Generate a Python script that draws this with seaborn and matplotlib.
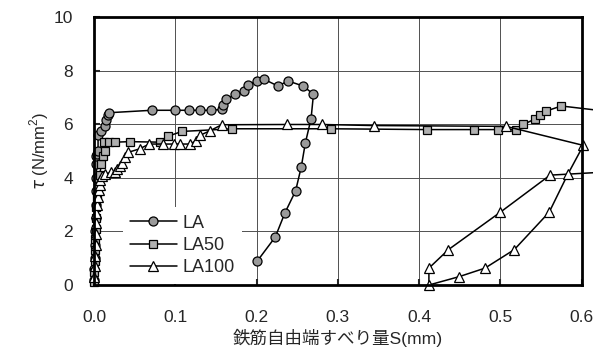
import matplotlib
matplotlib.use("Agg")
import matplotlib.pyplot as plt
import seaborn as sns

# Bond stress vs. free-end slip for three specimens
la_s = [0.000, 0.000, 0.001, 0.001, 0.001, 0.002, 0.002, 0.002, 0.003, 0.003,
        0.002, 0.004, 0.005, 0.005, 0.009, 0.013, 0.015, 0.017, 0.019, 0.071,
        0.100, 0.117, 0.130, 0.144, 0.157, 0.159, 0.163, 0.174, 0.185, 0.190,
        0.200, 0.209, 0.226, 0.239, 0.257, 0.270, 0.267, 0.260, 0.255, 0.248,
        0.235, 0.223, 0.201]
la_tau = [0.2, 0.6, 1.0, 1.5, 2.0, 2.5, 3.0, 3.5, 4.0, 4.5,
          4.8, 4.9, 5.0, 5.58, 5.76, 5.95, 6.14, 6.33, 6.43, 6.52,
          6.52, 6.52, 6.52, 6.52, 6.55, 6.73, 6.93, 7.12, 7.24, 7.46,
          7.63, 7.68, 7.43, 7.61, 7.43, 7.12, 6.20, 5.30, 4.41, 3.51,
          2.70, 1.79, 0.90]

la50_s = [0.000, 0.000, 0.001, 0.001, 0.001, 0.002, 0.002, 0.003, 0.004, 0.005,
          0.007, 0.009, 0.011, 0.013, 0.012, 0.019, 0.026, 0.044, 0.081, 0.091,
          0.108, 0.170, 0.292, 0.410, 0.468, 0.497, 0.519, 0.528, 0.543, 0.549,
          0.556, 0.575, 0.620]
la50_tau = [0.1, 0.5, 0.9, 1.3, 1.7, 2.1, 2.5, 2.9, 3.3, 3.7,
            4.1, 4.5, 4.8, 5.0, 5.33, 5.33, 5.33, 5.35, 5.33, 5.55,
            5.73, 5.83, 5.83, 5.80, 5.80, 5.80, 5.80, 5.99, 6.20, 6.36,
            6.49, 6.68, 6.52]

la100_s = [0.000, 0.001, 0.001, 0.002, 0.002, 0.003, 0.003, 0.004, 0.005, 0.006,
           0.007, 0.008, 0.010, 0.014, 0.021, 0.026, 0.028, 0.032, 0.034, 0.038,
           0.042, 0.056, 0.068, 0.085, 0.098, 0.106, 0.118, 0.126, 0.130, 0.143,
           0.157, 0.237, 0.280, 0.345, 0.507, 0.602, 0.583, 0.560, 0.517, 0.481,
           0.449, 0.412, 0.412, 0.436, 0.500, 0.561, 0.620]
la100_tau = [0.3, 0.7, 1.1, 1.5, 1.9, 2.3, 2.7, 3.0, 3.3, 3.55,
             3.75, 3.9, 4.05, 4.15, 4.2, 4.2, 4.32, 4.45, 4.57, 4.76,
             4.95, 5.08, 5.26, 5.26, 5.26, 5.26, 5.26, 5.39, 5.58, 5.76,
             5.98, 5.99, 5.99, 5.95, 5.92, 5.21, 4.14, 2.72, 1.32, 0.63,
             0.31, 0.0, 0.63, 1.32, 2.72, 4.10, 4.2]

labels = ["LA", "LA50", "LA100"]
x_ticks = [0.0, 0.1, 0.2, 0.3, 0.4, 0.5, 0.6]
y_ticks = [0, 2, 4, 6, 8, 10]

sns.set_style("white")
plt.rcParams["font.family"] = ["Liberation Sans", "Noto Sans CJK JP", "DejaVu Sans"]
plt.rcParams["mathtext.fontset"] = "custom"
plt.rcParams["mathtext.rm"] = "Liberation Sans"

fig = plt.figure(figsize=(5.93, 3.51), dpi=100)
ax = fig.add_axes([0.1585, 0.188, 0.8225, 0.7635])

styles = [
    dict(marker="o", markersize=6.5, markerfacecolor="#9a9a9a"),
    dict(marker="s", markersize=5.8, markerfacecolor="#b0b0b0"),
    dict(marker="^", markersize=7.2, markerfacecolor="white"),
]
series = [(la_s, la_tau), (la50_s, la50_tau), (la100_s, la100_tau)]

for (xs, ys), lab, st in zip(series, labels, styles):
    n = len(xs)
    # points past the right edge only carry the line out of the frame
    shown = [i for i in range(n) if xs[i] <= 0.605]
    sns.lineplot(x=xs, y=ys, ax=ax, sort=False, estimator=None, label=lab,
                 color="black", linewidth=1.1, markeredgecolor="black",
                 markeredgewidth=0.9, markevery=shown, clip_on=False, **st)

ax.set_xlim(0, 0.6)
ax.set_ylim(0, 10)
ax.set_xticks(x_ticks)
ax.set_xticklabels([f"{v:.1f}" for v in x_ticks])
ax.set_yticks(y_ticks)
ax.set_axisbelow(True)
ax.grid(True, color="#505050", linewidth=0.7)

for sp in ax.spines.values():
    sp.set_visible(True)
    sp.set_color("black")
    sp.set_linewidth(2)

ax.tick_params(axis="both", direction="in", length=4, width=1.5, labelsize=12.5,
               bottom=True, left=True)
ax.tick_params(axis="x", pad=18)
ax.tick_params(axis="y", pad=15)

ax.set_xlabel("鉄筋自由端すべり量S(mm)", fontsize=12.6,
              family=["Liberation Sans", "Noto Sans CJK JP"], labelpad=3)
ax.set_ylabel(r"$\tau$ (N/mm$^2$)", fontsize=12, labelpad=2)

leg = ax.legend(loc="lower left", bbox_to_anchor=(0.059, 0.005), borderaxespad=0,
                fontsize=13, frameon=True, fancybox=False, framealpha=1,
                facecolor="white", edgecolor="none", handlelength=2.6,
                handletextpad=0.3, labelspacing=0.3, borderpad=0.4)

fig.savefig("out.png", dpi=100)
